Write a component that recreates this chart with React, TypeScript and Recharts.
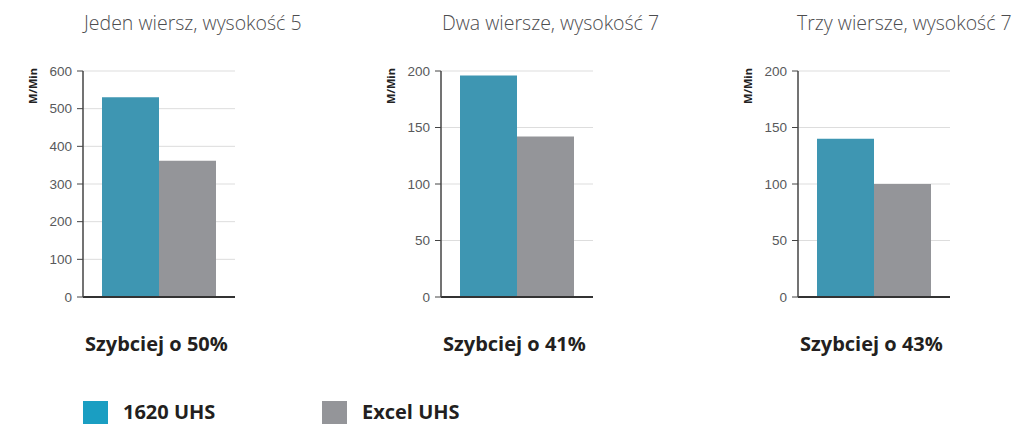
import React from "react";
import { Bar, BarChart, CartesianGrid, XAxis, YAxis } from "recharts";

const panelTitles = [
  "Jeden wiersz, wysokość 5",
  "Dwa wiersze, wysokość 7",
  "Trzy wiersze, wysokość 7",
];
const speedups = ["Szybciej o 50%", "Szybciej o 41%", "Szybciej o 43%"];
const series1620 = [530, 196, 140];
const seriesExcel = [362, 142, 100];
const yTicks = [
  [0, 100, 200, 300, 400, 500, 600],
  [0, 50, 100, 150, 200],
  [0, 50, 100, 150, 200],
];
const seriesNames = ["1620 UHS", "Excel UHS"];
const unitLabel = "M/Min";

const BLUE = "#3e96b2";
const GRAY = "#949599";
const LEGEND_BLUE = "#1a9ec2";
const panelLeft = [0, 358, 715];
const AXIS_W = 83;

function Panel({ idx }: { idx: number }) {
  const data = [{ name: panelTitles[idx], a: series1620[idx], b: seriesExcel[idx] }];
  const ticks = yTicks[idx];
  const left = panelLeft[idx];
  return (
    <div style={{ position: "absolute", left, top: 0 }}>
      <div
        style={{
          position: "absolute",
          left: AXIS_W + (idx === 2 ? -1 : 1),
          top: 13,
          whiteSpace: "nowrap",
          fontFamily: "'Open Sans', sans-serif",
          fontWeight: 300,
          fontSize: 19.5,
          lineHeight: 1,
          color: "#4d4d4f",
        }}
      >
        {panelTitles[idx]}
      </div>
      <div style={{ position: "absolute", left: 0, top: 60 }}>
        <BarChart
          width={240}
          height={250}
          data={data}
          margin={{ top: 11, right: 5, left: 0, bottom: 12 }}
          barCategoryGap="12.5%"
          barGap={0}
        >
          <CartesianGrid vertical={false} stroke="#dddddd" />
          <XAxis
            dataKey="name"
            tick={false}
            tickLine={false}
            height={1}
            axisLine={{ stroke: "#333", strokeWidth: 2 }}
          />
          <YAxis
            width={AXIS_W}
            domain={[0, ticks[ticks.length - 1]]}
            ticks={ticks}
            interval={0}
            tickSize={6}
            tickMargin={5}
            axisLine={{ stroke: "#444", strokeWidth: 1.5 }}
            tickLine={{ stroke: "#444" }}
            tick={{ fill: "#58595b", fontSize: 13.5, fontFamily: "'Liberation Sans', Arial, sans-serif" }}
            label={{
              content: () => (
                <text
                  x={32}
                  y={26}
                  transform="rotate(-90 32 26)"
                  textAnchor="middle"
                  dominantBaseline="central"
                  fontFamily="'Open Sans', sans-serif"
                  fontWeight="bold"
                  fontSize={11}
                  fill="#222"
                >
                  {unitLabel}
                </text>
              ),
            }}
          />
          <Bar dataKey="a" fill={BLUE} isAnimationActive={false} />
          <Bar dataKey="b" fill={GRAY} isAnimationActive={false} />
        </BarChart>
      </div>
      <div
        style={{
          position: "absolute",
          left: AXIS_W + 2,
          top: 334,
          whiteSpace: "nowrap",
          fontFamily: "'Open Sans', sans-serif",
          fontWeight: 700,
          fontSize: 20,
          lineHeight: 1,
          color: "#231f20",
        }}
      >
        {speedups[idx]}
      </div>
    </div>
  );
}

export default function App() {
  const legendColors = [LEGEND_BLUE, GRAY];
  const legendLeft = [83, 322];
  return (
    <div
      style={{
        position: "absolute",
        left: 0,
        top: 0,
        width: 1018,
        height: 424,
        background: "#fff",
        overflow: "hidden",
      }}
    >
      {[0, 1, 2].map((i) => (
        <Panel key={i} idx={i} />
      ))}
      {seriesNames.map((n, i) => (
        <div key={n} style={{ position: "absolute", left: legendLeft[i], top: 401, height: 23 }}>
          <div style={{ width: 25, height: 23, background: legendColors[i] }} />
          <span
            style={{
              position: "absolute",
              left: 40,
              top: 0,
              whiteSpace: "nowrap",
              fontFamily: "'Open Sans', sans-serif",
              fontWeight: 700,
              fontSize: 20,
              lineHeight: "21px",
              color: "#231f20",
            }}
          >
            {n}
          </span>
        </div>
      ))}
    </div>
  );
}
